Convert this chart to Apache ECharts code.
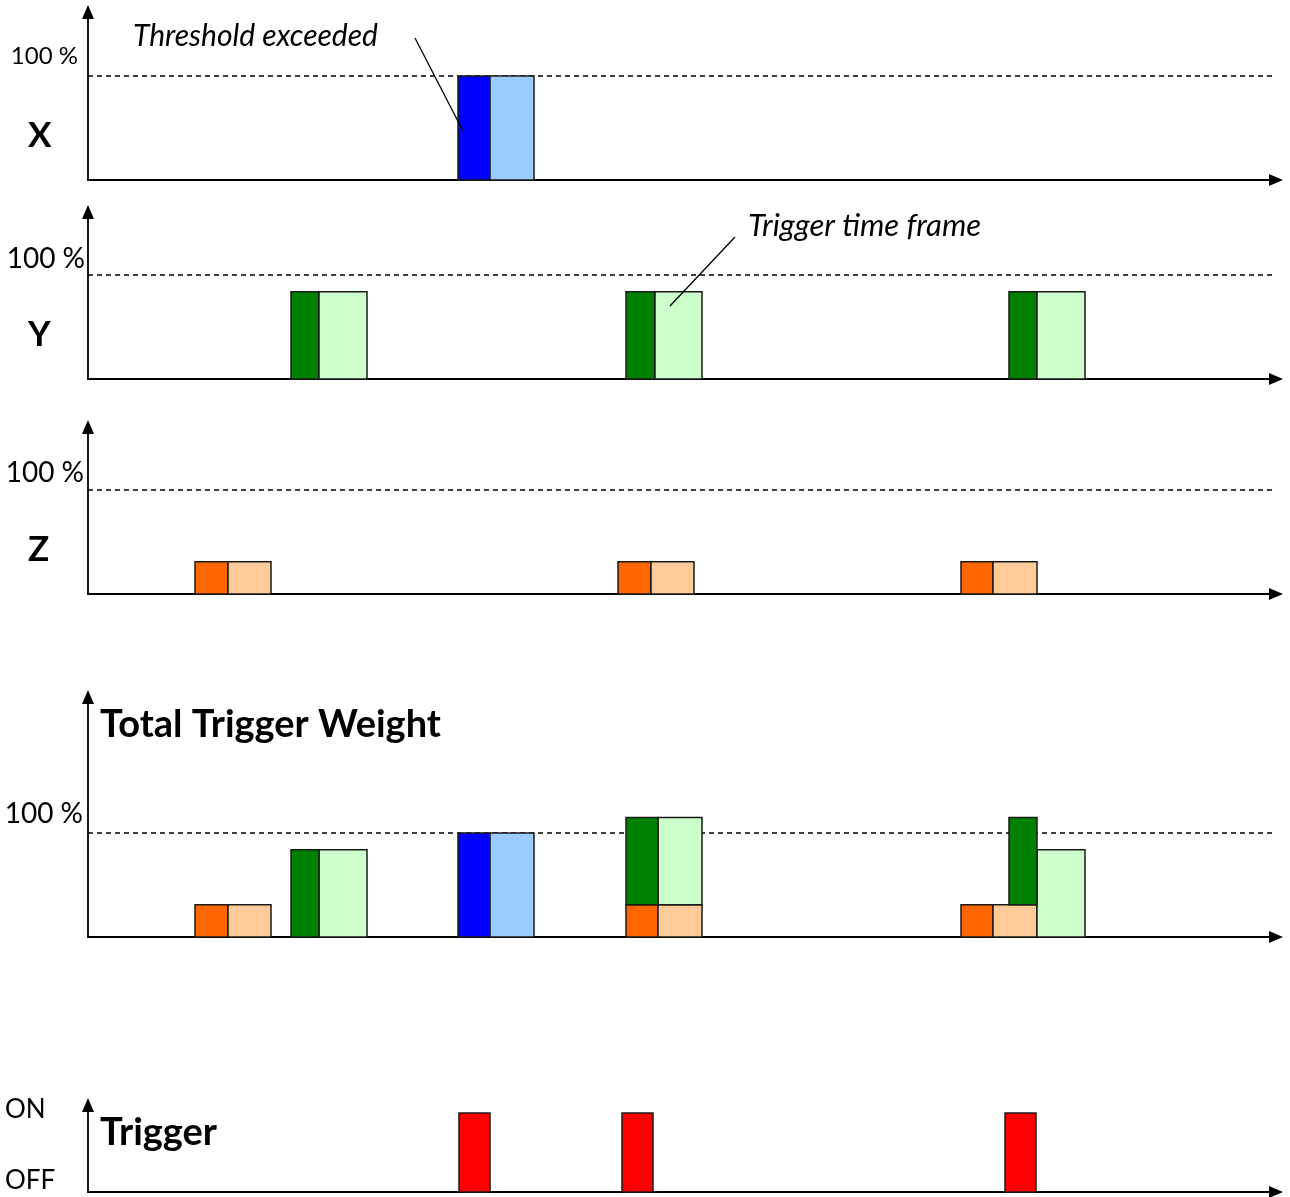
<!DOCTYPE html>
<html>
<head>
<meta charset="utf-8">
<script src="https://cdn.jsdelivr.net/npm/echarts@6/dist/echarts.min.js"></script>
<style>html,body{margin:0;padding:0;background:#fff}#c{width:1290px;height:1197px}</style>
</head>
<body>
<div id="c"></div>
<script>
// ---- data (time units along x, percent of threshold along y) ----
const TIME_MAX = 1188;
const THRESHOLD = [[0, 100], [1185, 100]];

// segments: [start, end, base, top]
const xOnset = [[370, 402, 0, 100]];
const xFrame = [[402, 446, 0, 100]];

const yOnset = [[203, 231, 0, 84], [538, 567, 0, 84], [921, 949, 0, 84]];
const yFrame = [[231, 279, 0, 84], [567, 614, 0, 84], [949, 997, 0, 84]];

const zOnset = [[107, 140, 0, 31], [530, 563, 0, 31], [873, 905, 0, 31]];
const zFrame = [[140, 183, 0, 31], [563, 606, 0, 31], [905, 949, 0, 31]];

const totalZOnset = [[107, 140, 0, 31], [538, 570, 0, 31], [873, 905, 0, 31]];
const totalZFrame = [[140, 183, 0, 31], [570, 614, 0, 31], [905, 949, 0, 31]];
const totalYOnset = [[203, 231, 0, 84], [538, 570, 31, 115], [921, 949, 31, 115]];
const totalYFrame = [[231, 279, 0, 84], [570, 614, 31, 115], [949, 997, 0, 84]];
const totalXOnset = [[370, 402, 0, 100]];
const totalXFrame = [[402, 446, 0, 100]];

const triggerOn = [[371, 402, 0, 1], [534, 565, 0, 1], [917, 948, 0, 1]];

// annotation leader lines [time, percent]
const leaderThreshold = [[327, 136.5], [375, 47.1]];
const leaderTimeFrame = [[647, 136.5], [582, 70.2]];

const panelNames = ['X', 'Y', 'Z'];
const pctTick = [100];
const onOffTicks = [0, 1];

// ---- layout ----
const FONT = 'Lato, "Open Sans", sans-serif';
const grids = [
  {left: 88, right: 14, top: 12, height: 168},
  {left: 88, right: 14, top: 212, height: 167},
  {left: 88, right: 14, top: 427, height: 167},
  {left: 88, right: 14, top: 697, height: 240},
  {left: 88, right: 14, top: 1105, height: 87}
];
const yMax = [161.54, 160.58, 160.58, 230.77, 1.101];
const pctLabel = [
  {size: 24, margin: 10, pad: 40},
  {size: 28, margin: 3, pad: 32},
  {size: 28, margin: 4, pad: 34},
  {size: 28, margin: 5, pad: 38}
];

const axisLine = {show: true, lineStyle: {color: '#000', width: 1.8},
  symbol: ['none', 'triangle'], symbolSize: [12, 14]};

const xAxes = grids.map((g, i) => ({
  type: 'value', gridIndex: i, min: 0, max: TIME_MAX,
  axisLine: axisLine, axisTick: {show: false}, axisLabel: {show: false}, splitLine: {show: false}
}));

const yAxes = grids.map((g, i) => {
  const base = {type: 'value', gridIndex: i, min: 0, max: yMax[i],
    axisLine: axisLine, axisTick: {show: false}, splitLine: {show: false}};
  if (i < 4) {
    const p = pctLabel[i];
    base.axisLabel = {show: true, customValues: pctTick,
      formatter: v => '{p|' + v + ' %}',
      margin: p.margin, verticalAlign: 'middle',
      rich: {p: {fontFamily: FONT, fontSize: p.size, color: '#000', padding: [0, 0, p.pad, 0]}}};
  } else {
    base.axisLabel = {show: true, customValues: onOffTicks,
      formatter: v => v === 1 ? '{on|ON}' : '{off|OFF}',
      align: 'left', margin: 83, verticalAlign: 'middle',
      rich: {
        on: {fontFamily: FONT, fontSize: 26, color: '#000', padding: [0, 0, 6, 0]},
        off: {fontFamily: FONT, fontSize: 26, color: '#000', padding: [0, 0, 22, 0]}
      }};
  }
  return base;
});

function rectSeries(idx, data, fill) {
  return {
    type: 'custom', xAxisIndex: idx, yAxisIndex: idx, data: data, z: 5,
    encode: {x: [0, 1], y: [2, 3]},
    renderItem: function (params, api) {
      const p0 = api.coord([api.value(0), api.value(3)]);
      const p1 = api.coord([api.value(1), api.value(2)]);
      return {type: 'rect',
        shape: {x: p0[0], y: p0[1], width: p1[0] - p0[0], height: p1[1] - p0[1]},
        style: {fill: fill, stroke: '#1a1a1a', lineWidth: 1.5}};
    }
  };
}
function dashSeries(idx) {
  return {type: 'line', xAxisIndex: idx, yAxisIndex: idx, data: THRESHOLD, symbol: 'none', z: 1,
    lineStyle: {color: '#000', width: 1.3, type: [5, 4]}, silent: true};
}
function leaderSeries(idx, data) {
  return {type: 'line', xAxisIndex: idx, yAxisIndex: idx, data: data, symbol: 'none', z: 10,
    lineStyle: {color: '#000', width: 1.3}, silent: true};
}

const C = {blueD: '#0000FF', blueL: '#99CCFF', greenD: '#008000', greenL: '#CCFFCC',
  orangeD: '#FF6600', orangeL: '#FFCC99', red: '#FF0000'};

const series = [
  dashSeries(0), dashSeries(1), dashSeries(2), dashSeries(3),
  rectSeries(0, xOnset, C.blueD), rectSeries(0, xFrame, C.blueL),
  rectSeries(1, yOnset, C.greenD), rectSeries(1, yFrame, C.greenL),
  rectSeries(2, zOnset, C.orangeD), rectSeries(2, zFrame, C.orangeL),
  rectSeries(3, totalZOnset, C.orangeD), rectSeries(3, totalZFrame, C.orangeL),
  rectSeries(3, totalYFrame, C.greenL), rectSeries(3, totalYOnset, C.greenD),
  rectSeries(3, totalXOnset, C.blueD), rectSeries(3, totalXFrame, C.blueL),
  rectSeries(4, triggerOn, C.red),
  leaderSeries(0, leaderThreshold), leaderSeries(1, leaderTimeFrame)
];

function txt(x, y, text, size, weight, style) {
  return {type: 'text', x: x, y: y, silent: true, z: 20,
    style: {text: text, fill: '#000', font: (style || 'normal') + ' ' + (weight || 'normal') + ' ' + size + 'px ' + FONT,
      align: 'left', verticalAlign: 'middle', textAlign: 'left', textVerticalAlign: 'middle'}};
}
const nameY = [136, 335, 550];
const graphics = panelNames.map((n, i) => txt(28, nameY[i], n, 35, 'bold'));
graphics.push(txt(100, 725, 'Total Trigger Weight', 38, 'bold'));
graphics.push(txt(100, 1133, 'Trigger', 38, 'bold'));
graphics.push(txt(133, 36, 'Threshold exceeded', 30, 'normal', 'italic'));
graphics.push(txt(748, 226, 'Trigger time frame', 31, 'normal', 'italic'));

const chart = echarts.init(document.getElementById('c'), null, {renderer: 'canvas'});
chart.setOption({
  animation: false,
  backgroundColor: '#fff',
  grid: grids,
  xAxis: xAxes,
  yAxis: yAxes,
  series: series,
  graphic: graphics
});
</script>
</body>
</html>
